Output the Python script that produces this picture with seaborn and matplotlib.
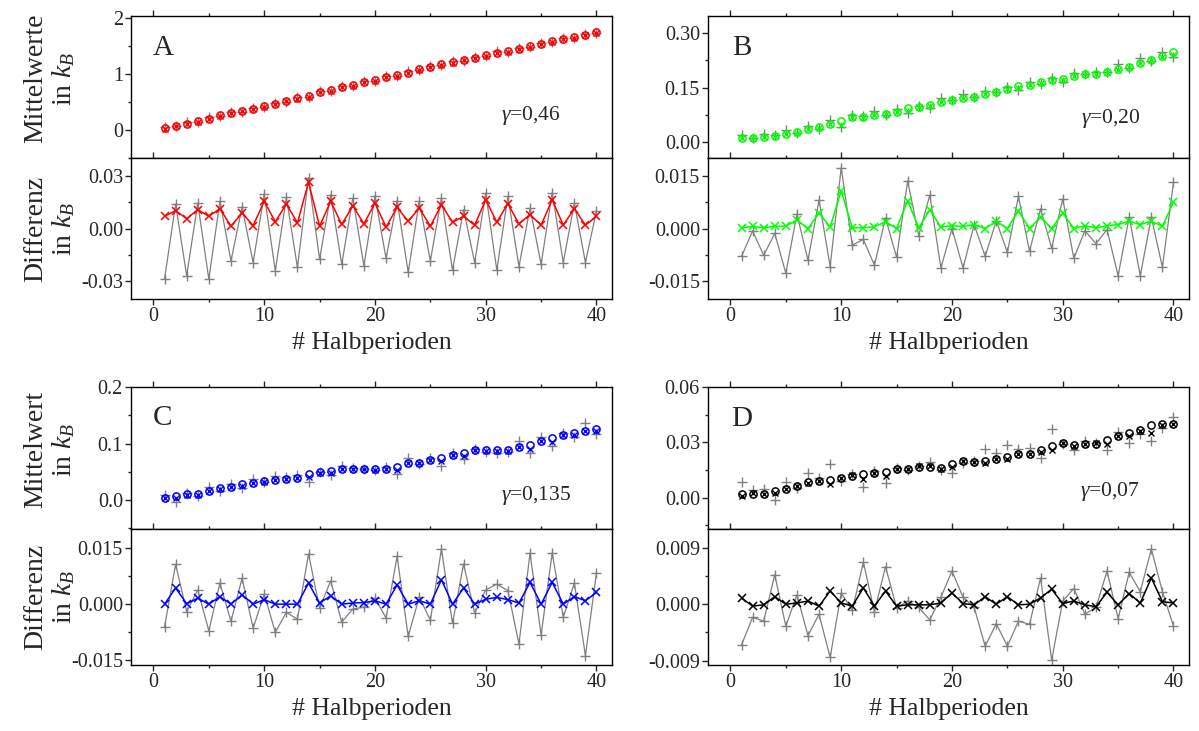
import matplotlib
matplotlib.use("Agg")
import matplotlib.pyplot as plt
import seaborn as sns
import pandas as pd
from matplotlib.ticker import MultipleLocator, FixedLocator, FixedFormatter

# ---------------- data ----------------
halbperioden = list(range(1, 41))

# Panel A (gamma = 0,46)
mean_A = [0.030, 0.077, 0.113, 0.160, 0.202, 0.261, 0.297, 0.338, 0.374, 0.427,
          0.463, 0.522, 0.563, 0.611, 0.670, 0.712, 0.759, 0.801, 0.848, 0.890,
          0.937, 0.973, 1.020, 1.080, 1.121, 1.168, 1.204, 1.246, 1.287, 1.329,
          1.376, 1.406, 1.447, 1.489, 1.536, 1.584, 1.619, 1.655, 1.696, 1.738]
diffx_A = [0.0069, 0.0101, 0.0056, 0.0107, 0.0069, 0.0113, 0.0013, 0.0088, 0.0017, 0.0154,
           0.0038, 0.0139, 0.0032, 0.0263, 0.0013, 0.0154, 0.0023, 0.0129, 0.0026, 0.0144,
           0.0008, 0.0120, 0.0041, 0.0116, 0.0013, 0.0135, 0.0036, 0.0069, 0.0019, 0.0163,
           0.0036, 0.0141, 0.0026, 0.0079, 0.0019, 0.0163, 0.0019, 0.0113, 0.0019, 0.0069]
diffp_A = [-0.0287, 0.0139, -0.0268, 0.0144, -0.0287, 0.0154, -0.0184, 0.0122, -0.0193, 0.0195,
           -0.0240, 0.0176, -0.0221, 0.0289, -0.0174, 0.0191, -0.0203, 0.0173, -0.0212, 0.0184,
           -0.0169, 0.0158, -0.0249, 0.0154, -0.0184, 0.0173, -0.0236, 0.0107, -0.0193, 0.0201,
           -0.0236, 0.0182, -0.0216, 0.0116, -0.0203, 0.0204, -0.0193, 0.0144, -0.0193, 0.0101]

# Panel B (gamma = 0,20)
mean_B = [0.011, 0.011, 0.014, 0.017, 0.021, 0.027, 0.034, 0.042, 0.049, 0.058,
          0.069, 0.069, 0.075, 0.078, 0.082, 0.092, 0.097, 0.103, 0.110, 0.116,
          0.122, 0.125, 0.132, 0.139, 0.145, 0.153, 0.158, 0.165, 0.171, 0.175,
          0.182, 0.187, 0.188, 0.194, 0.201, 0.208, 0.218, 0.227, 0.236, 0.247]
diffx_B = [0.0002, 0.0006, 0.0002, 0.0006, 0.0007, 0.0024, 0.0000, 0.0044, 0.0004, 0.0107,
           0.0002, 0.0002, 0.0005, 0.0019, 0.0000, 0.0079, 0.0002, 0.0053, 0.0004, 0.0008,
           0.0006, 0.0011, 0.0000, 0.0021, 0.0000, 0.0050, 0.0000, 0.0032, 0.0000, 0.0044,
           0.0000, 0.0008, 0.0002, 0.0008, 0.0011, 0.0021, 0.0011, 0.0021, 0.0006, 0.0075]
diffp_B = [-0.0079, -0.0007, -0.0076, -0.0014, -0.0127, 0.0041, -0.0090, 0.0081, -0.0108, 0.0172,
           -0.0047, -0.0031, -0.0104, 0.0030, -0.0082, 0.0135, -0.0020, 0.0095, -0.0112, 0.0000,
           -0.0112, 0.0011, -0.0079, 0.0022, -0.0068, 0.0091, -0.0064, 0.0056, -0.0056, 0.0084,
           -0.0085, -0.0006, -0.0043, -0.0003, -0.0134, 0.0032, -0.0134, 0.0032, -0.0110, 0.0131]

# Panel C (gamma = 0,135)
mean_C = [0.003, 0.008, 0.010, 0.011, 0.016, 0.021, 0.024, 0.028, 0.031, 0.034,
          0.036, 0.038, 0.040, 0.046, 0.049, 0.051, 0.055, 0.055, 0.055, 0.055,
          0.055, 0.059, 0.066, 0.066, 0.071, 0.075, 0.079, 0.083, 0.088, 0.089,
          0.089, 0.088, 0.094, 0.097, 0.104, 0.109, 0.115, 0.118, 0.123, 0.126]
diffx_C = [0.0000, 0.0043, 0.0001, 0.0016, 0.0000, 0.0020, 0.0000, 0.0025, 0.0000, 0.0012,
           0.0000, 0.0000, 0.0000, 0.0056, 0.0003, 0.0022, 0.0000, 0.0003, 0.0004, 0.0009,
           0.0000, 0.0051, 0.0000, 0.0009, 0.0000, 0.0065, 0.0000, 0.0043, 0.0000, 0.0013,
           0.0018, 0.0012, 0.0003, 0.0058, 0.0000, 0.0058, 0.0000, 0.0020, 0.0009, 0.0031]
diffp_C = [-0.0061, 0.0106, -0.0020, 0.0038, -0.0071, 0.0056, -0.0046, 0.0069, -0.0064, 0.0027,
           -0.0075, -0.0022, -0.0040, 0.0134, -0.0011, 0.0062, -0.0048, -0.0013, -0.0008, 0.0016,
           -0.0037, 0.0127, -0.0086, 0.0019, -0.0043, 0.0147, -0.0051, 0.0107, -0.0024, 0.0038,
           0.0053, 0.0036, -0.0106, 0.0136, -0.0082, 0.0136, -0.0035, 0.0056, -0.0137, 0.0084]

# Panel D (gamma = 0,07)
mean_D = [0.0018, 0.0021, 0.0021, 0.0035, 0.0049, 0.0065, 0.0085, 0.0088, 0.0097, 0.0109,
          0.0118, 0.0127, 0.0132, 0.0141, 0.0155, 0.0155, 0.0168, 0.0168, 0.0159, 0.0185,
          0.0198, 0.0194, 0.0198, 0.0212, 0.0221, 0.0238, 0.0238, 0.0256, 0.0282, 0.0297,
          0.0286, 0.0291, 0.0291, 0.0312, 0.0335, 0.0349, 0.0365, 0.0394, 0.0397, 0.0401]
diffx_D = [0.0010, -0.0003, -0.0001, 0.0012, 0.0000, 0.0002, 0.0005, -0.0003, 0.0021, 0.0002,
           -0.0003, 0.0026, -0.0003, 0.0021, -0.0003, -0.0001, -0.0001, -0.0001, 0.0002, 0.0018,
           0.0001, -0.0001, 0.0012, 0.0000, 0.0012, -0.0001, 0.0000, 0.0010, 0.0024, 0.0001,
           0.0005, -0.0001, -0.0004, 0.0019, -0.0001, 0.0017, 0.0002, 0.0042, 0.0004, 0.0002]
diffp_D = [-0.0065, -0.0021, -0.0027, 0.0047, -0.0035, 0.0015, -0.0050, -0.0016, -0.0085, 0.0018,
           -0.0010, 0.0067, -0.0012, 0.0060, -0.0006, 0.0005, -0.0005, -0.0025, 0.0011, 0.0053,
           0.0011, -0.0005, -0.0067, -0.0031, -0.0067, -0.0027, -0.0032, 0.0042, -0.0089, 0.0005,
           0.0025, -0.0016, -0.0005, 0.0053, -0.0023, 0.0051, 0.0020, 0.0088, 0.0020, -0.0035]

panel_letters = ["A", "B", "C", "D"]
gamma_labels = ["0,46", "0,20", "0,135", "0,07"]
x_ticks = [0, 10, 20, 30, 40]
top_ticks = {"A": [0, 1, 2], "B": [0.0, 0.15, 0.30], "C": [0.0, 0.1, 0.2], "D": [0.0, 0.03, 0.06]}
top_ticklabels = {"A": ["0", "1", "2"], "B": ["0.00", "0.15", "0.30"],
                  "C": ["0.0", "0.1", "0.2"], "D": ["0.00", "0.03", "0.06"]}
diff_ticks = {"A": [-0.03, 0.0, 0.03], "B": [-0.015, 0.0, 0.015],
              "C": [-0.015, 0.0, 0.015], "D": [-0.009, 0.0, 0.009]}
diff_ticklabels = {"A": ["-0.03", "0.00", "0.03"], "B": ["-0.015", "0.000", "0.015"],
                   "C": ["-0.015", "0.000", "0.015"], "D": ["-0.009", "0.000", "0.009"]}

# ---------------- style ----------------
sns.set_style("ticks")
plt.rcParams["font.family"] = ["Liberation Serif", "DejaVu Serif"]
plt.rcParams["mathtext.fontset"] = "custom"
plt.rcParams["mathtext.rm"] = "Liberation Serif"
plt.rcParams["mathtext.it"] = "Liberation Serif:italic"
plt.rcParams["axes.linewidth"] = 1.0

W, H = 1199, 731
fig = plt.figure(figsize=(W / 100, H / 100), dpi=100)


def box(l, t, r, b):
    return [l / W, 1 - b / H, (r - l) / W, (b - t) / H]


layout = {
    "A": ((131.3, 16, 612, 158), (131.3, 158, 612, 299)),
    "B": ((708.3, 16, 1189, 158), (708.3, 158, 1189, 299)),
    "C": ((131.3, 387, 612, 529), (131.3, 529, 612, 665)),
    "D": ((708.3, 387, 1189, 529), (708.3, 529, 1189, 665)),
}
ylims_top = {"A": (-0.5, 2.03), "B": (-0.045, 0.348), "C": (-0.051, 0.2), "D": (-0.017, 0.06)}
ylims_diff = {"A": (-0.04, 0.04), "B": (-0.02, 0.02), "C": (-0.0162, 0.020), "D": (-0.0097, 0.012)}
colors = {"A": "#ff0000", "B": "#00ff00", "C": "#0000ff", "D": "#000000"}
gamma_pos = {"A": (0.769, 0.296), "B": (0.776, 0.275), "C": (0.770, 0.236), "D": (0.773, 0.264)}
letter_pos = {"A": (0.044, 0.778), "B": (0.049, 0.775), "C": (0.045, 0.78), "D": (0.047, 0.775)}

data = {
    "A": (mean_A, diffx_A, diffp_A),
    "B": (mean_B, diffx_B, diffp_B),
    "C": (mean_C, diffx_C, diffp_C),
    "D": (mean_D, diffx_D, diffp_D),
}
GRAY = "#808080"
TICKFS = 14.5
LABELFS = 20


def style_axis(ax):
    ax.set_xlim(-2, 41.4)
    ax.xaxis.set_major_locator(FixedLocator(x_ticks))
    ax.xaxis.set_minor_locator(MultipleLocator(5))
    ax.tick_params(axis="both", which="major", direction="out", length=4, width=1,
                   labelsize=TICKFS, top=True, right=False, pad=2)
    ax.tick_params(axis="both", which="minor", direction="out", length=2.5, width=1,
                   top=True, right=False)
    for s in ax.spines.values():
        s.set_visible(True)
        s.set_color("black")
        s.set_linewidth(1.0)


for i, key in enumerate(["A", "B", "C", "D"]):
    mean, dx, dp = data[key]
    col = colors[key]
    df = pd.DataFrame({
        "hp": halbperioden,
        "mean": mean,
        "est_x": [m - d for m, d in zip(mean, dx)],
        "est_p": [m - d for m, d in zip(mean, dp)],
        "diff_x": dx,
        "diff_p": dp,
    })
    (tbox, dbox) = layout[key]
    ax_t = fig.add_axes(box(*tbox))
    ax_d = fig.add_axes(box(*dbox))

    # --- top panel: means
    sns.lineplot(data=df, x="hp", y="est_p", ax=ax_t, linestyle="", marker="+",
                 markersize=6.5, markeredgewidth=1.0, markeredgecolor=GRAY, color=GRAY)
    sns.lineplot(data=df, x="hp", y="mean", ax=ax_t, linestyle="", marker="o",
                 markersize=5.2, markeredgewidth=1.1, markerfacecolor="none",
                 markeredgecolor=col, color=col)
    sns.lineplot(data=df, x="hp", y="est_x", ax=ax_t, linestyle="", marker="x",
                 markersize=3.8, markeredgewidth=1.0, markeredgecolor=col, color=col)
    style_axis(ax_t)
    ax_t.set_ylim(*ylims_top[key])
    ax_t.yaxis.set_major_locator(FixedLocator(top_ticks[key]))
    ax_t.yaxis.set_major_formatter(FixedFormatter(top_ticklabels[key]))
    ax_t.yaxis.set_minor_locator(MultipleLocator((top_ticks[key][1] - top_ticks[key][0]) / 2))
    ax_t.set_xticklabels([])
    ax_t.set_xlabel("")
    ax_t.set_ylabel("")
    ax_t.text(*letter_pos[key], panel_letters[i], transform=ax_t.transAxes,
              fontsize=21, ha="left", va="center")
    ax_t.text(*gamma_pos[key], "$\\gamma$=" + gamma_labels[i], transform=ax_t.transAxes,
              fontsize=15.5, ha="left", va="center")

    # --- bottom panel: differences
    sns.lineplot(data=df, x="hp", y="diff_p", ax=ax_d, color=GRAY, linewidth=0.9,
                 marker="+", markersize=7.5, markeredgewidth=1.0, markeredgecolor=GRAY)
    sns.lineplot(data=df, x="hp", y="diff_x", ax=ax_d, color=col, linewidth=1.1,
                 marker="x", markersize=6, markeredgewidth=1.1, markeredgecolor=col)
    style_axis(ax_d)
    ax_d.set_ylim(*ylims_diff[key])
    ax_d.yaxis.set_major_locator(FixedLocator(diff_ticks[key]))
    ax_d.yaxis.set_major_formatter(FixedFormatter(diff_ticklabels[key]))
    ax_d.yaxis.set_minor_locator(MultipleLocator(diff_ticks[key][2] / 2))
    ax_d.set_xlabel("# Halbperioden", fontsize=18.5, labelpad=4)
    ax_d.set_ylabel("")

    if key in ("A", "C"):
        top_label = "Mittelwerte" if key == "A" else "Mittelwert"
        ax_t.set_ylabel(top_label + "\nin $k_B$", fontsize=LABELFS, linespacing=1.1)
        ax_t.yaxis.set_label_coords(-0.112, 0.56)
        ax_d.set_ylabel("Differenz\nin $k_B$", fontsize=LABELFS, linespacing=1.1)
        ax_d.yaxis.set_label_coords(-0.112, 0.5)

fig.savefig("out.png", dpi=100)
